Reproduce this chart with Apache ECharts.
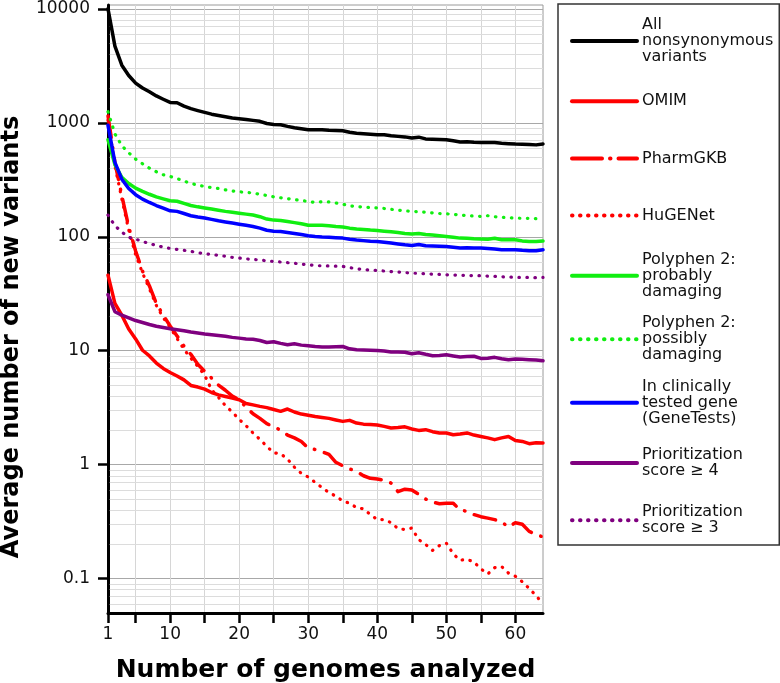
<!DOCTYPE html>
<html>
<head>
<meta charset="utf-8">
<script src="https://cdn.jsdelivr.net/npm/echarts@6/dist/echarts.min.js"></script>
<style>
html,body{margin:0;padding:0;background:#fff;}
#chart{width:780px;height:683px;}
</style>
</head>
<body>
<div id="chart"></div>
<script>
// ---- data ----
const genomes = [1,2,3,4,5,6,7,8,9,10,11,12,13,14,15,16,17,18,19,20,21,22,23,24,25,26,27,28,29,30,31,32,33,34,35,36,37,38,39,40,41,42,43,44,45,46,47,48,49,50,51,52,53,54,55,56,57,58,59,60,61,62,63,64];

const allNonsyn = [10000,4700,3200,2600,2230,2020,1870,1720,1610,1510,1500,1400,1330,1280,1233,1190,1160,1130,1100,1084,1070,1050,1030,985,965,960,930,905,885,868,870,868,860,855,850,825,810,800,792,785,785,770,760,752,735,748,722,718,715,710,695,678,682,675,672,670,672,662,655,650,648,645,640,652];

const omim = [46,26,20.5,15.5,12.7,10.1,9.0,7.8,7.0,6.45,6.0,5.55,4.96,4.8,4.61,4.3,4.1,3.97,3.85,3.72,3.45,3.35,3.25,3.17,3.05,2.94,3.08,2.9,2.78,2.72,2.65,2.6,2.55,2.47,2.4,2.45,2.32,2.27,2.25,2.23,2.17,2.1,2.12,2.15,2.06,2.0,2.03,1.95,1.9,1.9,1.83,1.86,1.9,1.82,1.77,1.72,1.66,1.72,1.77,1.63,1.6,1.53,1.56,1.55];

const pharmGKB = [1150,450,230,122,75,50,37,26,20.5,16.5,13.5,11,9.3,7.6,6.6,5.76,5.0,4.5,4.0,3.72,3.2,2.8,2.55,2.29,2.17,2.0,1.82,1.72,1.6,1.4,1.36,1.3,1.23,1.05,0.98,0.92,0.87,0.8,0.76,0.75,0.73,0.69,0.58,0.61,0.6,0.55,0.5,0.47,0.455,0.46,0.46,0.4,0.39,0.365,0.35,0.34,0.33,0.315,0.284,0.31,0.3,0.26,0.245,0.232];

const hugeNet = [1050,420,215,115,70,48,35,25,19.5,16,12.8,10.3,8.6,7.3,6.1,4.55,3.9,3.3,2.9,2.5,2.2,1.9,1.67,1.45,1.27,1.25,1.12,0.95,0.84,0.78,0.7,0.63,0.57,0.53,0.48,0.46,0.42,0.41,0.365,0.33,0.33,0.31,0.275,0.27,0.278,0.22,0.2,0.177,0.195,0.205,0.165,0.145,0.148,0.14,0.122,0.11,0.125,0.128,0.112,0.105,0.094,0.082,0.071,0.06];

const polyProbably = [710,430,333,293,267,250,236,224,215,207,205,196,188,183,179,175,171,167,164,161,158,155,150,143,140,139,136,133,130,126,126,126,125,123,122,119,117,116,114.5,113.5,112,110.5,109,107,105.5,107,104.5,103.5,102,100.6,99,97.3,97,96,95.4,95,97,94,94,94,92,91,91,92];

const polyPossibly = [1250,800,630,546,480,437,400,372,350,338,324,308,294,284,276,270,265,258,252,248,245,242,236,230,224,220,216,212,208,204,200,203,202,198,193,187,184,182,181,179,177,174,171,169,167,166,164,162,160,159,157,155,153,152,151,153,150,148,147,146,145,145,144,144];

const geneTests = [950,450,320,265,234,214,200,188,178,169,167,160,153,149,146,142,138,135,132,129,126,123,119,114,112,111,109,107,104.5,102,100.5,99.4,99,98,97.3,95,93.5,92.5,91.5,91,89.5,88,86.5,85,84,85.5,83.5,83,82.5,82.2,81,79.6,80,79.8,79.6,79,78,77,77,76.9,76,75.5,75.4,76.9];

const prior4 = [31,22,20.5,19.4,18.4,17.7,17,16.4,16,15.6,15.3,15,14.6,14.3,14,13.8,13.6,13.4,13.1,12.9,12.7,12.6,12.3,11.8,12,11.6,11.3,11.5,11.2,11.07,10.9,10.8,10.8,10.85,10.9,10.4,10.2,10.15,10.1,10.07,9.95,9.73,9.75,9.7,9.41,9.6,9.3,9.04,9.1,9.22,9.0,8.81,8.9,8.95,8.56,8.6,8.75,8.5,8.34,8.45,8.4,8.35,8.3,8.17];

const prior3 = [155,125,110,99,95.4,91,87,84,81,79,77.5,76,74.4,72.5,71,70,68.7,67.5,66,65,64,63.2,62.5,61.5,60.7,60,59.2,58.5,57.5,56.8,56,55.5,55.5,55.2,55,53.5,52.5,51.4,51,50.6,50,49.5,49,48.5,48,47.7,47.4,47,46.7,46.4,46.2,46,45.8,45.6,45.5,45.2,45,44.6,44.3,44,44,44,43.8,44];

const seriesNames = [
  'All\nnonsynonymous\nvariants',
  'OMIM',
  'PharmGKB',
  'HuGENet',
  'Polyphen 2:\nprobably\ndamaging',
  'Polyphen 2:\npossibly\ndamaging',
  'In clinically\ntested gene\n(GeneTests)',
  'Prioritization\nscore \u2265 4',
  'Prioritization\nscore \u2265 3'
];

const xTickValues = [1,5,10,15,20,25,30,35,40,45,50,55,60];
const xLabelValues = [1,10,20,30,40,50,60];
const yTickValues = [0.1,1,10,100,1000,10000];

const xTitle = 'Number of genomes analyzed';
const yTitle = 'Average number of new variants';

// ---- build ----
const pairs = arr => genomes.map((g, i) => [g, arr[i]]);

const solid = {type: 'solid', width: 3.5, cap: 'round', join: 'round'};
const dotted = {type: [0.5, 7.5], width: 3.2, cap: 'round', join: 'round'};
const dashDot = {type: [22, 10, 0.5, 10], width: 3.5, cap: 'round', join: 'round'};

const defs = [
  [allNonsyn, '#000000', solid],
  [omim, '#ff0000', solid],
  [pharmGKB, '#ff0000', dashDot],
  [hugeNet, '#ff0000', dotted],
  [polyProbably, '#11ee11', solid],
  [polyPossibly, '#11ee11', dotted],
  [geneTests, '#0000ff', solid],
  [prior4, '#7f007f', solid],
  [prior3, '#7f007f', dotted]
];

// light log-spaced minor grid lines (2..9 in every decade)
const minorVals = [];
[0.01, 0.1, 1, 10, 100, 1000].forEach(d => {
  for (let m = 2; m <= 9; m++) {
    const v = +(m * d).toPrecision(3);
    if (v > 0.05 && v < 10800) minorVals.push(v);
  }
});

const series = defs.map((d, i) => ({
  name: seriesNames[i],
  type: 'line',
  data: pairs(d[0]),
  showSymbol: false,
  symbol: 'none',
  smooth: false,
  z: 3,
  lineStyle: Object.assign({color: d[1]}, d[2]),
  itemStyle: {color: d[1]},
  emphasis: {disabled: true}
}));

series.push({
  name: 'minor',
  type: 'line',
  data: [],
  silent: true,
  z: 1,
  markLine: {
    silent: true,
    z: 1,
    animation: false,
    symbol: ['none', 'none'],
    label: {show: false},
    emphasis: {disabled: true},
    lineStyle: {color: '#dcdcdc', width: 1, type: 'solid'},
    data: minorVals.map(v => [{xAxis: 1.25, yAxis: v}, {xAxis: 64, yAxis: v}])
  }
});

const legendData = seriesNames.map((n, i) => {
  if (i === 2) return {name: n, lineStyle: {type: [30, 8, 0.5, 8]}};
  return {name: n};
});

const font = 'DejaVu Sans, Verdana, sans-serif';

const option = {
  animation: false,
  backgroundColor: '#ffffff',
  grid: {
    left: 108, right: 237, top: 5, bottom: 70,
    outerBoundsMode: 'none', containLabel: false,
    show: true, borderColor: '#9a9a9a', borderWidth: 1, backgroundColor: 'transparent'
  },
  legend: {
    orient: 'vertical',
    left: 558, top: 4,
    padding: [13, 6, 4, 12],
    itemWidth: 65, itemHeight: 52, itemGap: 15.5,
    borderColor: '#333', borderWidth: 1.5,
    selectedMode: false,
    lineStyle: {width: 4},
    itemStyle: {opacity: 0, color: 'transparent', borderWidth: 0},
    textStyle: {fontFamily: font, fontSize: 16, lineHeight: 16, color: '#111'},
    data: legendData
  },
  xAxis: {
    type: 'value', min: 1, max: 64,
    name: xTitle, nameLocation: 'middle', nameGap: 45,
    nameTextStyle: {fontFamily: font, fontSize: 25, fontWeight: 'bold', color: '#000'},
    axisLine: {show: true, lineStyle: {color: '#000', width: 3}},
    axisTick: {show: true, length: 10, lineStyle: {color: '#000', width: 2.5}, customValues: xTickValues},
    axisLabel: {customValues: xLabelValues, margin: 13, fontFamily: font, fontSize: 17, color: '#111'},
    splitLine: {show: true, lineStyle: {color: '#d6d6d6', width: 1}},
    minorTick: {show: false}
  },
  yAxis: {
    type: 'log', logBase: 10, min: 0.05, max: 10800,
    name: yTitle, nameLocation: 'middle', nameGap: 84,
    nameTextStyle: {fontFamily: font, fontSize: 24, fontWeight: 'bold', color: '#000', padding: [0, 56, 0, 0]},
    axisLine: {show: true, lineStyle: {color: '#000', width: 3}},
    axisTick: {show: true, length: 10, lineStyle: {color: '#000', width: 2.5}, customValues: yTickValues},
    axisLabel: {customValues: yTickValues, margin: 18, fontFamily: font, fontSize: 17, color: '#111',
      formatter: v => String(v)},
    splitLine: {show: true, lineStyle: {color: '#a8a8a8', width: 1}}
  },
  series: series
};

const chart = echarts.init(document.getElementById('chart'), null, {renderer: 'canvas'});
chart.setOption(option);
</script>
</body>
</html>
